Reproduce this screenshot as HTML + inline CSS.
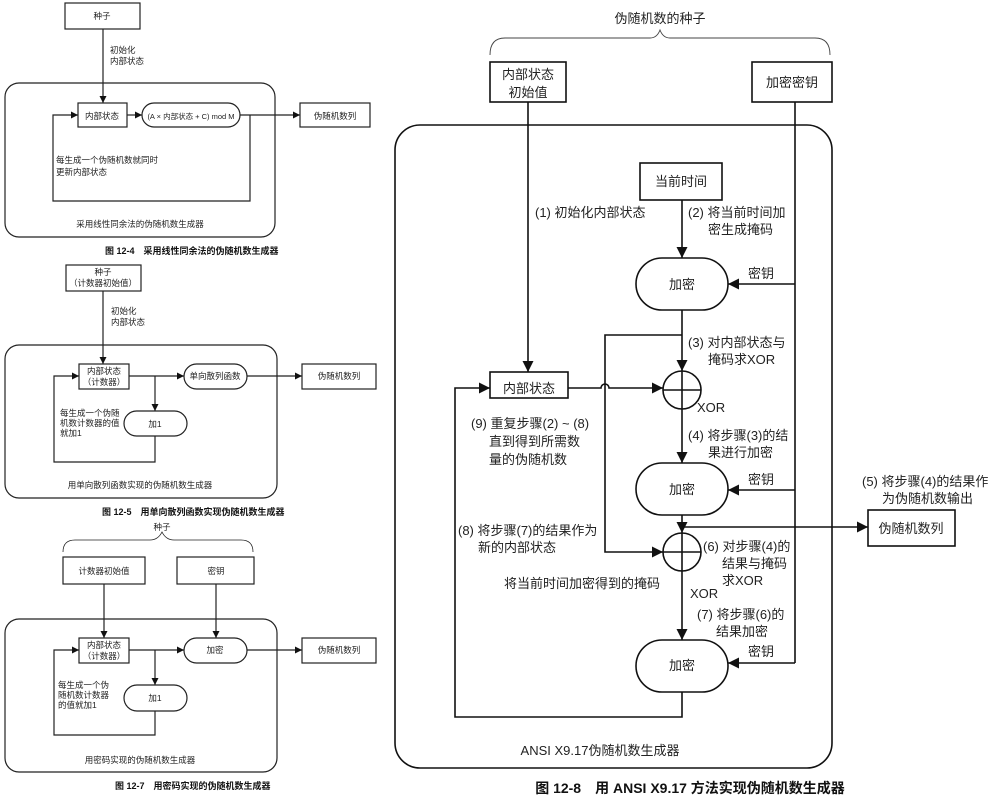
<!DOCTYPE html>
<html><head><meta charset="utf-8"><style>
html,body{margin:0;padding:0;background:#fff;}
svg{display:block;font-family:"Liberation Sans","Noto Sans CJK SC",sans-serif;}
.s{font-size:8.5px;fill:#222;}
.m{font-size:13px;fill:#222;}
.cap{font-size:9px;font-weight:bold;fill:#111;}
</style></head><body>
<svg width="993" height="801" viewBox="0 0 993 801" xmlns="http://www.w3.org/2000/svg">
<defs>
<marker id="a" viewBox="0 0 10 10" refX="10" refY="5" markerWidth="7" markerHeight="7" orient="auto" markerUnits="userSpaceOnUse"><path d="M0,0L10,5L0,10z" fill="#111"/></marker>
<marker id="b" viewBox="0 0 10 10" refX="10" refY="5" markerWidth="11" markerHeight="11" orient="auto" markerUnits="userSpaceOnUse"><path d="M0,0L10,5L0,10z" fill="#111"/></marker>
</defs>
<g fill="none" stroke="#222" stroke-width="1.2">
<rect x="65" y="3" width="75" height="26" fill="#fff"/>
<line x1="103" y1="29" x2="103" y2="103" marker-end="url(#a)"/>
<rect x="5" y="83" width="270" height="154" rx="14"/>
<rect x="78" y="103" width="49" height="24"/>
<rect x="142" y="103" width="98" height="24" rx="12"/>
<line x1="127" y1="115" x2="142" y2="115" marker-end="url(#a)"/>
<line x1="240" y1="115" x2="300" y2="115" marker-end="url(#a)"/>
<rect x="300" y="103" width="70" height="24"/>
<polyline points="250,115 250,201 53,201 53,115 78,115" marker-end="url(#a)"/>
<rect x="66" y="265" width="75" height="26"/>
<line x1="103" y1="291" x2="103" y2="364" marker-end="url(#a)"/>
<rect x="5" y="345" width="272" height="153" rx="14"/>
<rect x="79" y="364" width="50" height="25"/>
<rect x="184" y="364" width="63" height="25" rx="12.5"/>
<line x1="129" y1="376" x2="184" y2="376" marker-end="url(#a)"/>
<line x1="247" y1="376" x2="302" y2="376" marker-end="url(#a)"/>
<rect x="302" y="364" width="74" height="25"/>
<line x1="155" y1="376" x2="155" y2="411" marker-end="url(#a)"/>
<rect x="124" y="411" width="63" height="25" rx="12.5"/>
<polyline points="155,436 155,462 54,462 54,376 79,376" marker-end="url(#a)"/>
<path d="M63,552 Q63,540 75,540 L150,540 Q158,540 162,532 Q166,540 174,540 L241,540 Q253,540 253,552" stroke-width="0.8"/>
<rect x="63" y="557" width="82" height="27"/>
<rect x="177" y="557" width="77" height="27"/>
<line x1="104" y1="584" x2="104" y2="638" marker-end="url(#a)"/>
<line x1="216" y1="584" x2="216" y2="638" marker-end="url(#a)"/>
<rect x="5" y="619" width="272" height="153" rx="14"/>
<rect x="79" y="638" width="50" height="25"/>
<rect x="184" y="638" width="63" height="25" rx="12.5"/>
<line x1="129" y1="650" x2="184" y2="650" marker-end="url(#a)"/>
<line x1="247" y1="650" x2="302" y2="650" marker-end="url(#a)"/>
<rect x="302" y="638" width="74" height="25"/>
<line x1="155" y1="650" x2="155" y2="685" marker-end="url(#a)"/>
<rect x="124" y="685" width="63" height="26" rx="13"/>
<polyline points="155,711 155,735 54,735 54,650 79,650" marker-end="url(#a)"/>
</g>
<g class="s">
<text x="102" y="19" text-anchor="middle">种子</text>
<text x="110" y="53">初始化</text><text x="110" y="64">内部状态</text>
<text x="102" y="119" text-anchor="middle">内部状态</text>
<text x="191" y="119" text-anchor="middle" font-size="7.5">(A × 内部状态 + C) mod M</text>
<text x="335" y="119" text-anchor="middle">伪随机数列</text>
<text x="56" y="163">每生成一个伪随机数就同时</text><text x="56" y="175">更新内部状态</text>
<text x="140" y="227" text-anchor="middle">采用线性同余法的伪随机数生成器</text>
<text x="103" y="275" text-anchor="middle">种子</text><text x="103" y="286" text-anchor="middle">（计数器初始值）</text>
<text x="111" y="314">初始化</text><text x="111" y="325">内部状态</text>
<text x="104" y="374" text-anchor="middle">内部状态</text><text x="104" y="385" text-anchor="middle">（计数器）</text>
<text x="215" y="379" text-anchor="middle">单向散列函数</text>
<text x="339" y="379" text-anchor="middle">伪随机数列</text>
<text x="60" y="416">每生成一个伪随</text><text x="60" y="426">机数计数器的值</text><text x="60" y="436">就加1</text>
<text x="155" y="427" text-anchor="middle">加1</text>
<text x="140" y="488" text-anchor="middle">用单向散列函数实现的伪随机数生成器</text>
<text x="162" y="530" text-anchor="middle">种子</text>
<text x="104" y="574" text-anchor="middle">计数器初始值</text>
<text x="216" y="574" text-anchor="middle">密钥</text>
<text x="104" y="648" text-anchor="middle">内部状态</text><text x="104" y="659" text-anchor="middle">（计数器）</text>
<text x="215" y="653" text-anchor="middle">加密</text>
<text x="339" y="653" text-anchor="middle">伪随机数列</text>
<text x="58" y="688">每生成一个伪</text><text x="58" y="698">随机数计数器</text><text x="58" y="708">的值就加1</text>
<text x="155" y="701" text-anchor="middle">加1</text>
<text x="140" y="763" text-anchor="middle">用密码实现的伪随机数生成器</text>
</g>
<text class="cap" x="105" y="254">图 12-4　采用线性同余法的伪随机数生成器</text>
<text class="cap" x="102" y="515">图 12-5　用单向散列函数实现伪随机数生成器</text>
<text class="cap" x="115" y="789">图 12-7　用密码实现的伪随机数生成器</text>

<g fill="none" stroke="#111" stroke-width="1.6">
<path d="M490,55 Q490,38 505,38 L650,38 Q657,38 660,30 Q663,38 670,38 L815,38 Q830,38 830,55" stroke-width="0.9" stroke="#444"/>
<rect x="490" y="62" width="76" height="40"/>
<rect x="752" y="62" width="80" height="40"/>
<rect x="395" y="125" width="437" height="643" rx="25"/>
<line x1="528" y1="102" x2="528" y2="372" marker-end="url(#b)"/>
<line x1="795" y1="102" x2="795" y2="663"/>
<rect x="640" y="163" width="82" height="37"/>
<line x1="682" y1="200" x2="682" y2="258" marker-end="url(#b)"/>
<rect x="636" y="258" width="92" height="52" rx="26"/>
<line x1="795" y1="284" x2="728" y2="284" marker-end="url(#b)"/>
<line x1="682" y1="310" x2="682" y2="371" marker-end="url(#b)"/>
<circle cx="682" cy="390" r="19"/>
<line x1="663" y1="390" x2="701" y2="390"/><line x1="682" y1="371" x2="682" y2="409"/>
<rect x="490" y="372" width="78" height="26"/>
<path d="M568,388 L601,388 A4,4 0 0 1 609,388 L663,388" marker-end="url(#b)"/>
<polyline points="682,335 605,335 605,552 663,552" marker-end="url(#b)"/>
<line x1="682" y1="409" x2="682" y2="463" marker-end="url(#b)"/>
<rect x="636" y="463" width="92" height="52" rx="26"/>
<line x1="795" y1="490" x2="728" y2="490" marker-end="url(#b)"/>
<line x1="682" y1="515" x2="682" y2="533" marker-end="url(#b)"/>
<line x1="682" y1="527" x2="868" y2="527" marker-end="url(#b)"/>
<rect x="868" y="510" width="87" height="36"/>
<circle cx="682" cy="552" r="19"/>
<line x1="663" y1="552" x2="701" y2="552"/><line x1="682" y1="533" x2="682" y2="571"/>
<line x1="682" y1="571" x2="682" y2="640" marker-end="url(#b)"/>
<rect x="636" y="640" width="92" height="52" rx="26"/>
<line x1="795" y1="663" x2="728" y2="663" marker-end="url(#b)"/>
<polyline points="682,692 682,717 455,717 455,388 490,388" marker-end="url(#b)"/>
</g>
<g class="m">
<text x="660" y="23" text-anchor="middle">伪随机数的种子</text>
<text x="528" y="79" text-anchor="middle">内部状态</text><text x="528" y="97" text-anchor="middle">初始值</text>
<text x="792" y="87" text-anchor="middle">加密密钥</text>
<text x="681" y="186" text-anchor="middle">当前时间</text>
<text x="535" y="217">(1) 初始化内部状态</text>
<text x="688" y="217">(2) 将当前时间加</text><text x="708" y="234">密生成掩码</text>
<text x="682" y="289" text-anchor="middle">加密</text>
<text x="748" y="278">密钥</text>
<text x="688" y="347">(3) 对内部状态与</text><text x="708" y="364">掩码求XOR</text>
<text x="529" y="393" text-anchor="middle">内部状态</text>
<text x="697" y="412">XOR</text>
<text x="471" y="428">(9) 重复步骤(2) ~ (8)</text><text x="489" y="446">直到得到所需数</text><text x="489" y="464">量的伪随机数</text>
<text x="688" y="440">(4) 将步骤(3)的结</text><text x="708" y="457">果进行加密</text>
<text x="682" y="494" text-anchor="middle">加密</text>
<text x="748" y="484">密钥</text>
<text x="862" y="486">(5) 将步骤(4)的结果作</text><text x="882" y="503">为伪随机数输出</text>
<text x="911" y="533" text-anchor="middle">伪随机数列</text>
<text x="458" y="535">(8) 将步骤(7)的结果作为</text><text x="478" y="552">新的内部状态</text>
<text x="703" y="551">(6) 对步骤(4)的</text><text x="722" y="568">结果与掩码</text><text x="722" y="585">求XOR</text>
<text x="504" y="588">将当前时间加密得到的掩码</text>
<text x="690" y="598">XOR</text>
<text x="697" y="619">(7) 将步骤(6)的</text>
<text x="716" y="636">结果加密</text>
<text x="682" y="670" text-anchor="middle">加密</text>
<text x="748" y="656">密钥</text>
<text x="600" y="755" text-anchor="middle">ANSI X9.17伪随机数生成器</text>
</g>
<text x="690" y="793" text-anchor="middle" font-size="14" font-weight="bold" fill="#111">图 12-8　用 ANSI X9.17 方法实现伪随机数生成器</text>
</svg>
</body></html>
